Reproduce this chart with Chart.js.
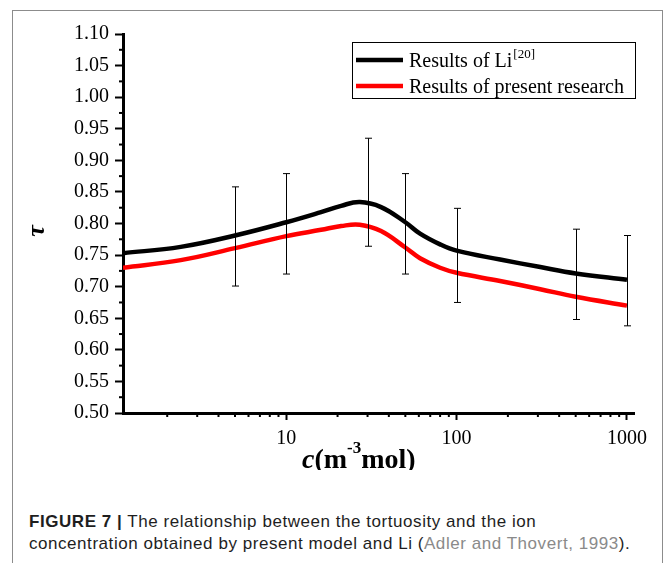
<!DOCTYPE html>
<html>
<head>
<meta charset="utf-8">
<script src="https://cdn.jsdelivr.net/npm/chart.js@4/dist/chart.umd.min.js"></script>
<style>
  html, body { margin: 0; padding: 0; background: #fff; }
  body { width: 663px; height: 563px; position: relative; overflow: hidden; }
  #frame { position: absolute; left: 12px; top: 10px; width: 649px; height: 600px; border: 1px solid #8c8c8c; }
  #chart { position: absolute; left: 0; top: 0; }
  #caption { position: absolute; left: 29px; top: 511px; width: 640px; white-space: nowrap;
             font-family: "Liberation Sans", Arial, sans-serif;
             font-size: 17px; letter-spacing: 0.55px; line-height: 21.5px; color: #1e1e1e; }
  #caption b { font-weight: bold; }
  #caption .ref { color: #8a8a8a; }
</style>
</head>
<body>
<div id="frame"></div>
<canvas id="chart" width="663" height="470"></canvas>
<div id="caption"><b>FIGURE 7 |</b> The relationship between the tortuosity and the ion<br>concentration obtained by present model and Li (<span class="ref">Adler and Thovert, 1993</span>).</div>
<script>
// concentration c (m^-3 mol), log axis
const concentration = [1.1, 2.4, 5, 10, 16, 21, 27, 36, 50, 61, 80, 100, 180, 310, 500, 1000];
const tauLi =      [0.753, 0.763, 0.781, 0.802, 0.818, 0.828, 0.834, 0.826, 0.802, 0.784, 0.767, 0.757, 0.743, 0.731, 0.721, 0.711];
const tauPresent = [0.730, 0.742, 0.761, 0.780, 0.790, 0.796, 0.798, 0.788, 0.762, 0.745, 0.730, 0.722, 0.709, 0.696, 0.684, 0.670];

// error bars
const errX =    [5, 10, 30, 50, 100, 500, 1000];
const errHigh = [0.858, 0.879, 0.935, 0.879, 0.824, 0.791, 0.781];
const errLow =  [0.701, 0.720, 0.764, 0.720, 0.675, 0.648, 0.638];

// ticks
const xTicks = [10, 100, 1000];
const yTicks = [0.50, 0.55, 0.60, 0.65, 0.70, 0.75, 0.80, 0.85, 0.90, 0.95, 1.00, 1.05, 1.10];

const serif = '"Liberation Serif", "Times New Roman", serif';

const toPoints = (ys) => concentration.map((c, i) => ({ x: c, y: ys[i] }));

// kleine Striche, Fehlerbalken, Legende und Achsentitel
const extras = {
    id: 'extras',
    afterDatasetsDraw(chart) {
        const { ctx, scales: { x, y } } = chart;
        ctx.save();

        // error bars
        ctx.strokeStyle = '#000';
        ctx.lineWidth = 1;
        errX.forEach((c, i) => {
            const px = Math.round(x.getPixelForValue(c)) + 0.5;
            const top = y.getPixelForValue(errHigh[i]);
            const bot = y.getPixelForValue(errLow[i]);
            ctx.beginPath();
            ctx.moveTo(px, top); ctx.lineTo(px, bot);
            ctx.moveTo(px - 3.5, top); ctx.lineTo(px + 3.5, top);
            ctx.moveTo(px - 3.5, bot); ctx.lineTo(px + 3.5, bot);
            ctx.stroke();
        });

        // minor ticks
        ctx.lineWidth = 2;
        for (let v = 0.525; v < 1.1; v += 0.05) {
            const py = y.getPixelForValue(v);
            ctx.beginPath(); ctx.moveTo(y.right - 4, py); ctx.lineTo(y.right, py); ctx.stroke();
        }
        [1, 10, 100].forEach(d => {
            for (let k = 2; k <= 9; k++) {
                const v = d * k;
                if (v < x.min || v > x.max) continue;
                const px = x.getPixelForValue(v);
                ctx.beginPath(); ctx.moveTo(px, x.top); ctx.lineTo(px, x.top + 4); ctx.stroke();
            }
        });

        // legend
        ctx.lineWidth = 1;
        ctx.strokeRect(352.5, 42.5, 283, 56);
        ctx.lineWidth = 4.5;
        ctx.strokeStyle = '#000';
        ctx.beginPath(); ctx.moveTo(356, 60); ctx.lineTo(403, 60); ctx.stroke();
        ctx.strokeStyle = '#ff0000';
        ctx.beginPath(); ctx.moveTo(356, 86); ctx.lineTo(403, 86); ctx.stroke();
        ctx.fillStyle = '#000';
        ctx.textBaseline = 'alphabetic';
        ctx.textAlign = 'left';
        ctx.font = '20px ' + serif;
        ctx.fillText('Results of Li', 409, 67);
        const w1 = ctx.measureText('Results of Li').width;
        ctx.fillText('Results of present research', 409, 93);
        ctx.font = '13px ' + serif;
        ctx.fillText('[20]', 409 + w1 + 1, 58);

        // x axis title
        let tx = 302;
        const base = 468;
        ctx.font = 'italic bold 28px ' + serif;
        ctx.fillText('c', tx, base); tx += ctx.measureText('c').width;
        ctx.font = 'bold 28px ' + serif;
        ctx.fillText('(m', tx, base); tx += ctx.measureText('(m').width;
        ctx.font = 'bold 17px ' + serif;
        ctx.fillText('-3', tx, base - 15); tx += ctx.measureText('-3').width;
        ctx.font = 'bold 28px ' + serif;
        ctx.fillText('mol)', tx, base);

        // y axis title
        ctx.translate(37, 231);
        ctx.rotate(-Math.PI / 2);
        ctx.textAlign = 'center';
        ctx.textBaseline = 'middle';
        ctx.font = 'italic bold 26px ' + serif;
        ctx.fillText('\u03c4', 0, 0);

        ctx.restore();
    }
};

new Chart(document.getElementById('chart').getContext('2d'), {
    type: 'line',
    data: {
        datasets: [
            {
                label: 'Results of Li',
                data: toPoints(tauLi),
                borderColor: '#000',
                borderWidth: 4.5,
                pointRadius: 0,
                tension: 0.4
            },
            {
                label: 'Results of present research',
                data: toPoints(tauPresent),
                borderColor: '#ff0000',
                borderWidth: 4.5,
                pointRadius: 0,
                tension: 0.4
            }
        ]
    },
    options: {
        responsive: false,
        animation: false,
        layout: { padding: { left: 0, right: 29, top: 34, bottom: 0 } },
        plugins: { legend: { display: false }, tooltip: { enabled: false } },
        scales: {
            x: {
                type: 'logarithmic',
                min: 1.1,
                max: 1100,
                border: { color: '#000', width: 3 },
                grid: { drawOnChartArea: false, tickLength: 7, tickWidth: 2, tickColor: '#000' },
                ticks: {
                    color: '#000',
                    font: { family: serif, size: 20 },
                    padding: 7,
                    maxRotation: 0,
                    autoSkip: false,
                    callback: (v) => String(v)
                },
                afterBuildTicks: (s) => { s.ticks = xTicks.map(v => ({ value: v })); },
                afterFit: (s) => { s.height = 57; }
            },
            y: {
                min: 0.5,
                max: 1.1,
                border: { color: '#000', width: 3 },
                grid: { drawOnChartArea: false, tickLength: 8, tickWidth: 2, tickColor: '#000' },
                ticks: {
                    color: '#000',
                    font: { family: serif, size: 20 },
                    padding: 6,
                    autoSkip: false,
                    callback: (v) => Number(v).toFixed(2)
                },
                afterBuildTicks: (s) => { s.ticks = yTicks.map(v => ({ value: v })); },
                afterFit: (s) => { s.width = 123; }
            }
        }
    },
    plugins: [extras]
});
</script>
</body>
</html>
